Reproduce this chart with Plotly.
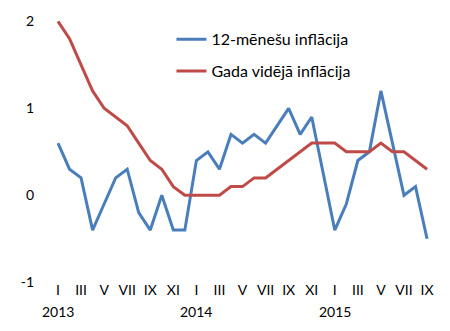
import plotly.graph_objects as go

months = list(range(33))
tick_vals = list(range(0, 33, 2))
tick_text = ["I", "III", "V", "VII", "IX", "XI", "I", "III", "V", "VII", "IX", "XI", "I", "III", "V", "VII", "IX"]
year_pos = [0, 12, 24]
year_text = ["2013", "2014", "2015"]
y_vals = [-1, 0, 1, 2]
y_text = ["-1", "0", "1", "2"]

infl_12m = [0.6, 0.3, 0.2, -0.4, -0.1, 0.2, 0.3, -0.2, -0.4, 0.0, -0.4, -0.4,
            0.4, 0.5, 0.3, 0.7, 0.6, 0.7, 0.6, 0.8, 1.0, 0.7, 0.9, 0.25,
            -0.4, -0.1, 0.4, 0.5, 1.2, 0.6, 0.0, 0.1, -0.5]
infl_avg = [2.0, 1.8, 1.5, 1.2, 1.0, 0.9, 0.8, 0.6, 0.4, 0.3, 0.1, 0.0,
            0.0, 0.0, 0.0, 0.1, 0.1, 0.2, 0.2, 0.3, 0.4, 0.5, 0.6, 0.6,
            0.6, 0.5, 0.5, 0.5, 0.6, 0.5, 0.5, 0.4, 0.3]

FONT = "Lato"

fig = go.Figure()
fig.add_trace(go.Scatter(x=months, y=infl_12m, mode="lines", name="12-mēnešu inflācija",
                         line=dict(color="#4A7EBB", width=3), legendgroup="a"))
fig.add_trace(go.Scatter(x=months, y=infl_avg, mode="lines", name="Gada vidējā inflācija",
                         line=dict(color="#BE4B48", width=3), legendgroup="b"))

for xp, t in zip(year_pos, year_text):
    fig.add_annotation(x=xp, y=0, xref="x", yref="paper", text=t, showarrow=False,
                       yanchor="top", yshift=-17, font=dict(family=FONT, size=14, color="#000"))

fig.update_layout(
    width=450, height=331,
    margin=dict(l=46, r=12, t=13, b=47),
    paper_bgcolor="white", plot_bgcolor="white",
    font=dict(family=FONT, size=14, color="#000"),
    showlegend=True,
    legend=dict(x=0.32, y=0.98, xanchor="left", yanchor="top", bgcolor="rgba(0,0,0,0)",
                font=dict(family=FONT, size=16, color="#000"), tracegroupgap=8,
                traceorder="grouped"),
    xaxis=dict(range=[-1.04, 32.95], tickmode="array", tickvals=tick_vals, ticktext=tick_text,
               showgrid=False, zeroline=False, showline=False, ticks="", ticklen=0,
               ticklabelstandoff=-4,
               tickfont=dict(family=FONT, size=14)),
    yaxis=dict(range=[-1.02, 2.05], tickmode="array", tickvals=y_vals, ticktext=y_text,
               showgrid=False, zeroline=False, showline=False, ticks="outside", ticklen=8,
               tickcolor="rgba(0,0,0,0)", tickfont=dict(family=FONT, size=14)),
)

fig.write_html("out.html")
